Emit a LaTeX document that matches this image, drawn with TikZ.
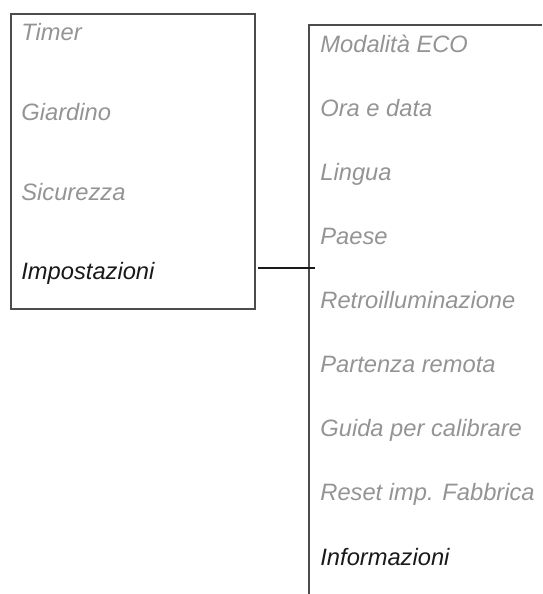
\documentclass[tikz,border=0pt]{standalone}
\usepackage{fontspec}
\setmainfont{Liberation Sans}
\usetikzlibrary{positioning}

\begin{document}
\begin{tikzpicture}[x=0.5pt,y=-0.5pt,
  font=\itshape\fontsize{11.85}{14}\selectfont,
  menubox/.style={draw=black!70,line width=1pt},
  entry/.style={anchor=base west,inner sep=0pt,text=black!42},
  entrysel/.style={entry,text=black!90},
  link/.style={draw=black!90,line width=0.7pt},
]
\useasboundingbox (0,0) rectangle (542,594);
% ---------- main menu ----------
\node[menubox,anchor=north west,minimum width=122pt,minimum height=147.5pt,inner sep=0pt] (main) at (10,13) {};
\foreach \name/\txt [count=\i from 0] in {timer/Timer,giardino/Giardino,sicurezza/Sicurezza}
  \node[entry] (\name) at (21,40+80*\i) {\txt};
\node[entrysel] (impostazioni) at (21,279) {Impostazioni};

% ---------- submenu Impostazioni ----------
\coordinate (subend) at (542,25);
\coordinate (subtop) at (309,25);
\coordinate (subbot) at (309,594);
\draw[menubox] (subend) -- (subtop) -- (subbot);
\foreach \name/\txt [count=\i from 0] in {eco/Modalità ECO,oradata/Ora e data,lingua/Lingua,paese/Paese,
    retro/Retroilluminazione,partenza/Partenza remota,guida/Guida per calibrare,reset/Reset imp. Fabbrica}
  \node[entry] (\name) at (320,52+64.1*\i) {\txt};
\node[entrysel] (informazioni) at (320,565) {Informazioni};

% ---------- link ----------
\coordinate (linkend) at (315,268);
\draw[link] ([xshift=1pt]main.east|-linkend) -- (linkend);
\end{tikzpicture}
\end{document}
